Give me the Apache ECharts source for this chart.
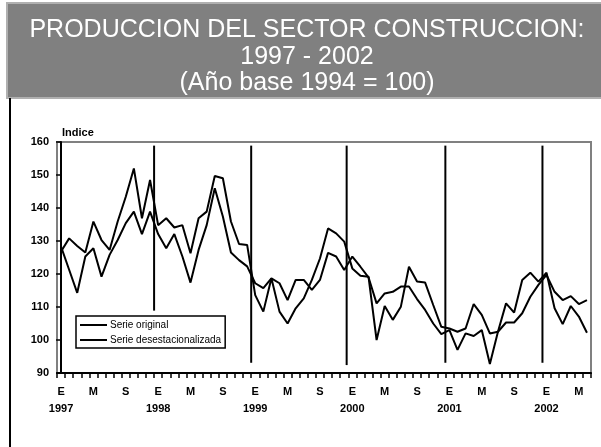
<!DOCTYPE html>
<html>
<head>
<meta charset="utf-8">
<script src="https://cdn.jsdelivr.net/npm/echarts@6.0.0/dist/echarts.min.js"></script>
<style>
  html, body { margin: 0; padding: 0; background: #fff; }
  #chart { width: 601px; height: 447px; }
</style>
</head>
<body>
<div id="chart"></div>
<script>
  // datos: indice mensual, ene 1997 - jun 2002
  var years = ['1997', '1998', '1999', '2000', '2001', '2002'];
  var monthLetters = ['E', 'F', 'M', 'A', 'M', 'J', 'J', 'A', 'S', 'O', 'N', 'D'];
  var monthsIn2002 = 6;

  var serieOriginal = [
    126.8, 130.8, 128.5, 126.5, 135.9, 130.3, 127.3, 135.9, 143.4, 152.0, 136.9, 148.5,
    134.8, 136.9, 134.1, 134.8, 126.3, 136.9, 138.9, 149.7, 149.0, 135.9, 129.1, 128.8,
    113.6, 108.6, 118.7, 108.6, 105.0, 109.6, 112.6, 118.2, 124.7, 133.8, 132.3, 129.8,
    121.7, 119.5, 119.2, 100.0, 110.3, 106.1, 110.1, 122.2, 117.7, 117.4, 110.6, 104.0,
    103.5, 102.5, 103.5, 110.9, 107.6, 102.0, 102.5, 105.3, 105.3, 108.1, 113.1, 116.7,
    119.7, 114.6, 112.1, 113.3, 110.9, 112.1
  ];
  var serieDesest = [
    128.3, 121.3, 114.3, 125.3, 127.8, 119.2, 125.8, 130.3, 135.4, 138.9, 132.1, 138.9,
    132.1, 127.8, 132.1, 125.3, 117.4, 127.3, 134.8, 146.0, 137.4, 126.5, 124.2, 122.3,
    117.2, 115.7, 118.7, 117.2, 112.1, 118.2, 118.2, 115.2, 118.2, 126.4, 125.3, 121.2,
    125.3, 122.2, 119.0, 111.1, 114.1, 114.6, 116.2, 116.2, 112.4, 109.1, 105.0, 101.8,
    103.0, 97.0, 102.0, 101.2, 103.0, 92.7, 102.5, 111.1, 108.3, 118.2, 120.4, 117.7,
    120.4, 109.6, 104.8, 110.3, 107.1, 102.2
  ];

  // lineas verticales de cambio de año (posicion en meses, tope y pie en el indice)
  var sepMonth = [11.5, 23.5, 35.3, 47.5, 59.5];
  var sepTop = [158.9, 158.9, 158.9, 158.9, 158.9];
  var sepBottom = [108.9, 93.1, 92.4, 93.1, 93.1];

  var yTicks = { min: 90, max: 160, step: 10 };

  var titulo = 'PRODUCCION DEL SECTOR CONSTRUCCION:\n1997 - 2002\n(Año base 1994 = 100)';

  // categorias: una por mes
  var cats = [];
  years.forEach(function (y, yi) {
    var n = yi === years.length - 1 ? monthsIn2002 : 12;
    for (var m = 0; m < n; m++) cats.push(y + '-' + m);
  });

  var font = 'Liberation Sans, Arial, sans-serif';

  var sepSeries = sepMonth.map(function (x, i) {
    return {
      type: 'line',
      name: 'sep' + i,
      xAxisIndex: 1,
      symbol: 'none',
      silent: true,
      lineStyle: { color: '#000', width: 2 },
      data: [[x, sepTop[i]], [x, sepBottom[i]]]
    };
  });

  var myChart = echarts.init(document.getElementById('chart'));
  myChart.setOption({
    animation: false,
    backgroundColor: '#fff',
    graphic: [
      {
        type: 'rect',
        z: -1,
        shape: { x: 7, y: 3, width: 600, height: 95 },
        style: { fill: '#808080', stroke: '#b0b0b0', lineWidth: 2 }
      },
      {
        type: 'text',
        x: 307,
        y: 17,
        style: {
          text: titulo,
          fill: '#fff',
          font: 'normal 25px ' + font,
          lineHeight: 26.5,
          align: 'center',
          verticalAlign: 'top'
        }
      },
      {
        type: 'line',
        shape: { x1: 10, y1: 98, x2: 10, y2: 447 },
        style: { stroke: '#000', lineWidth: 2 }
      }
    ],
    legend: {
      data: [
        { name: 'Serie original', icon: 'rect' },
        { name: 'Serie desestacionalizada', icon: 'rect' }
      ],
      orient: 'vertical',
      left: 76,
      top: 316,
      itemWidth: 27,
      itemHeight: 2,
      itemGap: 5,
      padding: [4, 4, 3, 4],
      backgroundColor: '#fff',
      borderColor: '#000',
      borderWidth: 1.5,
      borderRadius: 0,
      itemStyle: { color: '#000', borderWidth: 0 },
      textStyle: { color: '#000', fontFamily: font, fontSize: 10, padding: [0, 0, 0, -2] }
    },
    grid: {
      left: 57,
      right: 10,
      top: 142,
      bottom: 74,
      show: true,
      borderColor: '#808080',
      borderWidth: 2
    },
    xAxis: [
      {
        type: 'category',
        data: cats,
        boundaryGap: true,
        axisLine: { lineStyle: { color: '#000', width: 2 } },
        axisTick: { show: true, interval: 0, length: 5, lineStyle: { color: '#000', width: 1.5 } },
        axisLabel: {
          interval: 3,
          margin: 10,
          color: '#000',
          fontFamily: font,
          fontSize: 11,
          fontWeight: 'bold',
          lineHeight: 17,
          formatter: function (value) {
            var p = value.split('-');
            var m = +p[1];
            return m === 0 ? monthLetters[m] + '\n' + p[0] : monthLetters[m];
          }
        },
        splitLine: { show: false }
      },
      {
        type: 'value',
        show: false,
        min: -0.5,
        max: cats.length - 0.5
      }
    ],
    yAxis: {
      type: 'value',
      min: yTicks.min,
      max: yTicks.max,
      interval: yTicks.step,
      name: 'Indice',
      nameLocation: 'end',
      nameGap: 4,
      nameTextStyle: {
        color: '#000',
        fontFamily: font,
        fontSize: 11,
        fontWeight: 'bold',
        align: 'left',
        padding: [0, 0, 0, 1]
      },
      axisLine: { show: true, lineStyle: { color: '#000', width: 2 } },
      axisTick: { show: true, length: 5, lineStyle: { color: '#000', width: 1.5 } },
      axisLabel: { color: '#000', fontFamily: font, fontSize: 11, fontWeight: 'bold', margin: 8 },
      splitLine: { show: false }
    },
    series: [
      {
        name: 'Serie original',
        type: 'line',
        symbol: 'none',
        lineStyle: { color: '#000', width: 2 },
        itemStyle: { color: '#000' },
        data: serieOriginal
      },
      {
        name: 'Serie desestacionalizada',
        type: 'line',
        symbol: 'none',
        lineStyle: { color: '#000', width: 2 },
        itemStyle: { color: '#000' },
        data: serieDesest
      }
    ].concat(sepSeries)
  });
</script>
</body>
</html>
